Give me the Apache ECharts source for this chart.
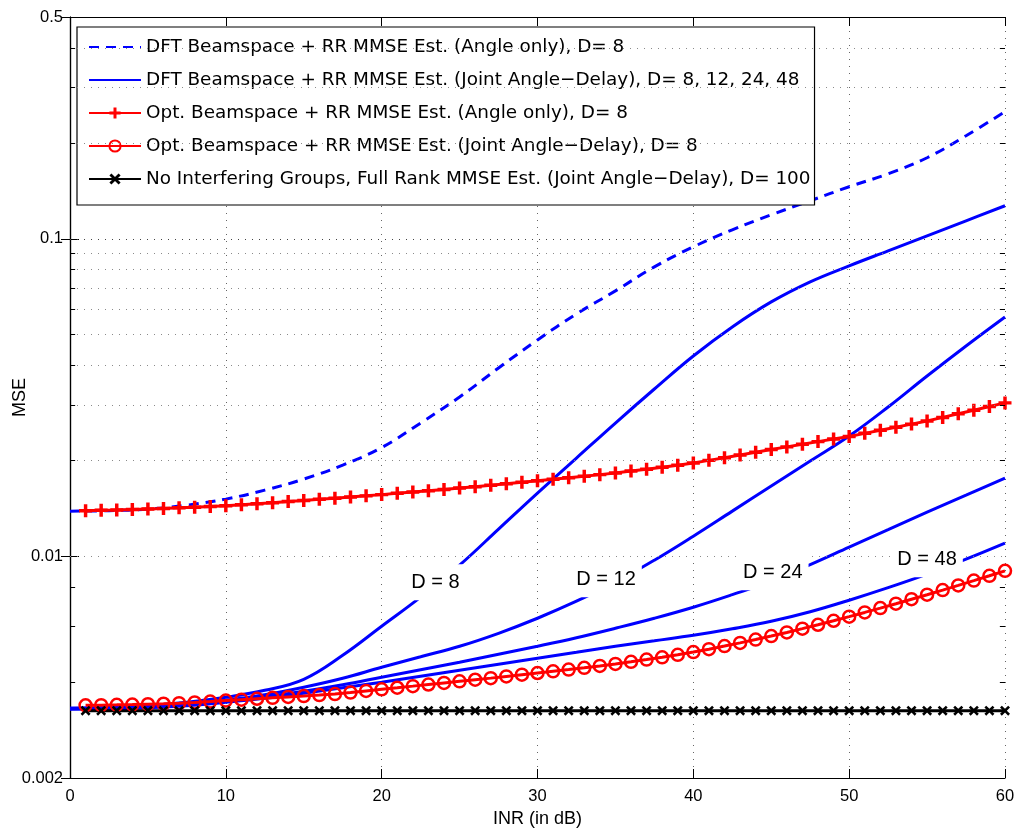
<!DOCTYPE html>
<html>
<head>
<meta charset="utf-8">
<title>MSE vs INR</title>
<script src="https://cdn.jsdelivr.net/npm/echarts@6/dist/echarts.min.js"></script>
<style>
  html, body { margin: 0; padding: 0; background: #fff; }
  #chart { width: 1016px; height: 831px; }
</style>
</head>
<body>
<div id="chart"></div>
<script>
// INR in dB: the marker curves have a point every 1 dB, the plain curves are read every 2.5 dB
const inrMarked = [1, 2, 3, 4, 5, 6, 7, 8, 9, 10, 11, 12, 13, 14, 15, 16, 17, 18, 19, 20,
  21, 22, 23, 24, 25, 26, 27, 28, 29, 30, 31, 32, 33, 34, 35, 36, 37, 38, 39, 40,
  41, 42, 43, 44, 45, 46, 47, 48, 49, 50, 51, 52, 53, 54, 55, 56, 57, 58, 59, 60]
const inrCurve = [0, 2.5, 5, 7.5, 10, 12.5, 15, 17.5, 20, 22.5, 25, 27.5, 30,
  32.5, 35, 37.5, 40, 42.5, 45, 47.5, 50, 52.5, 55, 57.5, 60]

// DFT beamspace, angle only (dashed)
const dftAngleOnly = [0.013866, 0.013916, 0.014068, 0.014483, 0.015129, 0.01615, 0.017494, 0.019365, 0.022, 0.02628,
  0.031739, 0.039181, 0.048022, 0.057999, 0.068549, 0.081608, 0.094348, 0.10677, 0.119028,
  0.131789, 0.145883, 0.160341, 0.180092, 0.211338, 0.251556]
// DFT beamspace, joint angle-delay, D = 8, 12, 24, 48
const dftJointD8 = [0.003315, 0.0033393, 0.0033759, 0.0034627, 0.003591, 0.0037783, 0.0040926, 0.004872, 0.0060142,
  0.007427, 0.0093677, 0.012167, 0.015802, 0.020381, 0.026276, 0.033637, 0.042747, 0.052777, 0.06328,
  0.073199, 0.082199, 0.09166, 0.1022, 0.11396, 0.1271]
const dftJointD12 = [0.003315, 0.0033271, 0.0033637, 0.0034251, 0.0035134, 0.0036566, 0.0038616, 0.0041223, 0.0044654,
  0.0048193, 0.0052021, 0.005715, 0.0063745, 0.0072124, 0.0082802, 0.0097135, 0.011563, 0.013866, 0.01663,
  0.01994, 0.023907, 0.029514, 0.036966, 0.045972, 0.056736]
const dftJointD24 = [0.003303, 0.003315, 0.0033393, 0.0034006, 0.0034881, 0.003604, 0.0037509, 0.0039323, 0.0041524,
  0.0043852, 0.0046308, 0.0049075, 0.0052021, 0.0055338, 0.0059276, 0.0063745, 0.0069048, 0.0075628, 0.0083407,
  0.009401, 0.010676, 0.012123, 0.013766, 0.015574, 0.017624]
const dftJointD48 = [0.003291, 0.003303, 0.0033271, 0.0033759, 0.0034627, 0.003565, 0.0036966, 0.0038476, 0.0040046,
  0.0041826, 0.0043693, 0.0045637, 0.004767, 0.0049793, 0.0052021, 0.0054146, 0.0056326, 0.0059061, 0.0062368,
  0.0066826, 0.007265, 0.0079561, 0.0087765, 0.0097845, 0.01099]

// optimised beamspace, angle only (+)
const optAngleOnly = [0.01391, 0.01395, 0.01399, 0.01404, 0.01409, 0.01414, 0.0142, 0.01427, 0.01434, 0.01441,
  0.01452, 0.01463, 0.01474, 0.01486, 0.01498, 0.01511, 0.01523, 0.01536, 0.01549, 0.01563,
  0.01578, 0.01593, 0.01608, 0.01623, 0.01639, 0.01656, 0.01673, 0.01691, 0.01709, 0.01728,
  0.01747, 0.01767, 0.01787, 0.01807, 0.01828, 0.01854, 0.0188, 0.01907, 0.01935, 0.01965,
  0.02004, 0.02043, 0.02084, 0.02126, 0.02168, 0.0221, 0.02253, 0.02296, 0.0234, 0.02384,
  0.02438, 0.02493, 0.02549, 0.02607, 0.02667, 0.02737, 0.0281, 0.02884, 0.02961, 0.03041]
// optimised beamspace, joint angle-delay (o)
const optJoint = [0.003388, 0.003393, 0.0034, 0.003408, 0.003418, 0.003428, 0.003443, 0.00346, 0.003483, 0.003508,
  0.003531, 0.003554, 0.003578, 0.003601, 0.003625, 0.003651, 0.003678, 0.003718, 0.003762, 0.003806,
  0.00385, 0.003895, 0.003941, 0.003987, 0.004033, 0.00408, 0.004128, 0.004179, 0.004231, 0.004284,
  0.004337, 0.004391, 0.004449, 0.004511, 0.004577, 0.004647, 0.004722, 0.004801, 0.004889, 0.004986,
  0.005092, 0.005208, 0.005331, 0.00546, 0.005601, 0.005749, 0.00591, 0.00608, 0.006259, 0.006449,
  0.006649, 0.00686, 0.007083, 0.007319, 0.007562, 0.007819, 0.00809, 0.008377, 0.008675, 0.008989]
// no interfering groups, full rank (x)
const noInterf = [0.00326, 0.00326, 0.00326, 0.00326, 0.00326, 0.00326, 0.00326, 0.00326, 0.00326, 0.00326,
  0.00326, 0.00326, 0.00326, 0.00326, 0.00326, 0.00326, 0.00326, 0.00326, 0.00326, 0.00326,
  0.00326, 0.00326, 0.00326, 0.00326, 0.00326, 0.00326, 0.00326, 0.00326, 0.00326, 0.00326,
  0.00326, 0.00326, 0.00326, 0.00326, 0.00326, 0.00326, 0.00326, 0.00326, 0.00326, 0.00326,
  0.00326, 0.00326, 0.00326, 0.00326, 0.00326, 0.00326, 0.00326, 0.00326, 0.00326, 0.00326,
  0.00326, 0.00326, 0.00326, 0.00326, 0.00326, 0.00326, 0.00326, 0.00326, 0.00326, 0.00326]

const legendNames = [
  'DFT Beamspace + RR MMSE Est. (Angle only), D= 8',
  'DFT Beamspace + RR MMSE Est. (Joint Angle\u2212Delay), D= 8, 12, 24, 48',
  'Opt. Beamspace + RR MMSE Est. (Angle only), D= 8',
  'Opt. Beamspace + RR MMSE Est. (Joint Angle\u2212Delay), D= 8',
  'No Interfering Groups, Full Rank MMSE Est. (Joint Angle\u2212Delay), D= 100'
]

// curve annotations and where they sit
const dLabels = ['D = 8', 'D = 12', 'D = 24', 'D = 48']
const dLabelAt = [[23.45, 0.00828], [34.4, 0.00846], [45.1, 0.0089], [55.0, 0.00978]]

// log grid lines
const gridMajor = [0.01, 0.1]
const gridMinor = [0.004, 0.006, 0.008, 0.02, 0.03, 0.04, 0.05, 0.06, 0.07, 0.08, 0.09, 0.2, 0.3, 0.4]

const FONT = '"Liberation Sans", Arial, Helvetica, sans-serif'
const LEGEND_FONT = '"DejaVu Sans", "Liberation Sans", sans-serif'
const BLUE = '#0000ff'
const RED = '#ff0000'
const PLUS = 'path://M4.4,0 H7.6 V4.4 H12 V7.6 H7.6 V12 H4.4 V7.6 H0 V4.4 H4.4 Z'
const CROSS = 'path://M0,1.8 L1.8,0 L5,3.2 L8.2,0 L10,1.8 L6.8,5 L10,8.2 L8.2,10 L5,6.8 L1.8,10 L0,8.2 L3.2,5 Z'
const MINOR_TICK = 0.33 // in dB, about 5 px

function pairs (xs, ys) {
  return xs.map((x, i) => [x, ys[i]])
}

function blueJoint (ys, i) {
  return {
    name: legendNames[1],
    type: 'line',
    z: 3,
    data: pairs(inrCurve, ys),
    smooth: 0.4,
    showSymbol: false,
    lineStyle: { color: BLUE, width: 3 },
    itemStyle: { color: BLUE },
    markPoint: {
      silent: true,
      symbol: 'rect',
      symbolSize: 1,
      itemStyle: { color: 'rgba(0,0,0,0)' },
      label: {
        show: true,
        position: 'inside',
        formatter: dLabels[i],
        color: '#000',
        fontSize: 20,
        fontFamily: FONT,
        backgroundColor: '#fff',
        padding: [8, 6]
      },
      data: [{ coord: dLabelAt[i] }]
    }
  }
}

const chart = echarts.init(document.getElementById('chart'))

const gridLines = gridMajor.map(v => ({ yAxis: v, lineStyle: { color: '#444' } }))
  .concat(gridMinor.map(v => ({ yAxis: v, lineStyle: { color: '#8a8a8a' } })))

// short inward ticks for the minor log values, on both y axes
const minorTicks = []
gridMinor.forEach(v => {
  minorTicks.push([{ coord: [0, v] }, { coord: [MINOR_TICK, v] }])
  minorTicks.push([{ coord: [60 - MINOR_TICK, v] }, { coord: [60, v] }])
})

const option = {
  animation: false,
  backgroundColor: '#fff',
  textStyle: { fontFamily: FONT },
  grid: { left: 70, right: 11, top: 17, bottom: 53, outerBoundsMode: 'none' },
  legend: {
    orient: 'vertical',
    left: 77,
    top: 27,
    padding: [10, 4, 16, 11],
    itemWidth: 52,
    itemHeight: 14,
    itemGap: 13,
    backgroundColor: '#fff',
    borderColor: '#000',
    borderWidth: 1.2,
    borderRadius: 0,
    textStyle: { fontSize: 18.4, color: '#000', fontFamily: LEGEND_FONT, lineHeight: 20 },
    data: [
      { name: legendNames[0], itemStyle: { opacity: 0 } },
      { name: legendNames[1], itemStyle: { opacity: 0 } },
      { name: legendNames[2] },
      { name: legendNames[3] },
      { name: legendNames[4] }
    ]
  },
  xAxis: [
    {
      type: 'value',
      min: 0,
      max: 60,
      interval: 10,
      name: 'INR (in dB)',
      nameLocation: 'middle',
      nameGap: 32,
      nameMoveOverlap: false,
      nameTextStyle: { fontSize: 18, color: '#000', fontFamily: FONT },
      axisLine: { lineStyle: { color: '#000', width: 1.2 } },
      axisTick: { inside: true, length: 9, lineStyle: { color: '#000' } },
      axisLabel: { fontSize: 16.5, color: '#000', margin: 10, fontFamily: FONT },
      splitLine: { show: true, lineStyle: { color: '#666', type: [1, 6], width: 1 } }
    },
    {
      type: 'value',
      position: 'top',
      min: 0,
      max: 60,
      interval: 10,
      axisLine: { lineStyle: { color: '#000', width: 1.2 } },
      axisTick: { inside: true, length: 9, lineStyle: { color: '#000' } },
      axisLabel: { show: false },
      splitLine: { show: false }
    }
  ],
  yAxis: [
    {
      type: 'log',
      logBase: 10,
      min: 0.002,
      max: 0.5,
      name: 'MSE',
      nameLocation: 'middle',
      nameGap: 41,
      nameMoveOverlap: false,
      nameTextStyle: { fontSize: 18, color: '#000', fontFamily: FONT },
      axisLine: { show: true, lineStyle: { color: '#000', width: 1.2 } },
      axisTick: { show: true, inside: true, length: 9, lineStyle: { color: '#000' } },
      axisLabel: {
        fontSize: 16.5,
        color: '#000',
        margin: 7,
        fontFamily: FONT,
        formatter: v => String(+(+v).toPrecision(3))
      },
      splitLine: { show: false }
    },
    {
      type: 'log',
      logBase: 10,
      min: 0.002,
      max: 0.5,
      position: 'right',
      axisLine: { show: true, lineStyle: { color: '#000', width: 1.2 } },
      axisTick: { show: true, inside: true, length: 9, lineStyle: { color: '#000' } },
      axisLabel: { show: false },
      splitLine: { show: false }
    }
  ],
  series: [
    {
      // dotted log grid
      name: 'grid',
      type: 'line',
      z: 1,
      data: [],
      markLine: {
        silent: true,
        symbol: ['none', 'none'],
        label: { show: false },
        lineStyle: { type: [1, 6], width: 1 },
        data: gridLines
      }
    },
    {
      // minor ticks
      name: 'ticks',
      type: 'line',
      z: 1,
      data: [],
      markLine: {
        silent: true,
        symbol: ['none', 'none'],
        label: { show: false },
        lineStyle: { type: 'solid', width: 1, color: '#000' },
        data: minorTicks
      }
    },
    {
      name: legendNames[0],
      type: 'line',
      z: 3,
      data: pairs(inrCurve, dftAngleOnly),
      smooth: 0.4,
      showSymbol: false,
      lineStyle: { color: BLUE, width: 3, type: [10, 7] },
      itemStyle: { color: BLUE }
    },
    blueJoint(dftJointD8, 0),
    blueJoint(dftJointD12, 1),
    blueJoint(dftJointD24, 2),
    blueJoint(dftJointD48, 3),
    {
      name: legendNames[2],
      type: 'line',
      z: 3,
      data: pairs(inrMarked, optAngleOnly),
      symbol: PLUS,
      symbolSize: 13,
      lineStyle: { color: RED, width: 3 },
      itemStyle: { color: RED }
    },
    {
      name: legendNames[3],
      type: 'line',
      z: 3,
      data: pairs(inrMarked, optJoint),
      symbol: 'circle',
      symbolSize: 12,
      lineStyle: { color: RED, width: 3 },
      itemStyle: { color: 'rgba(255,255,255,0)', borderColor: RED, borderWidth: 2.5 }
    },
    {
      name: legendNames[4],
      type: 'line',
      z: 3,
      data: pairs(inrMarked, noInterf),
      symbol: CROSS,
      symbolSize: 10,
      lineStyle: { color: '#000', width: 3 },
      itemStyle: { color: '#000' }
    }
  ]
}

chart.setOption(option)
</script>
</body>
</html>
